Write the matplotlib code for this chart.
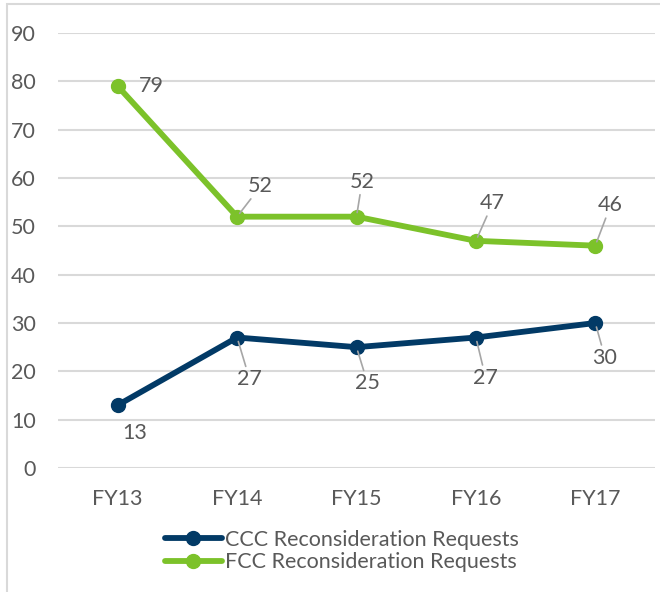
import matplotlib
matplotlib.use("Agg")
import matplotlib.pyplot as plt
from matplotlib.patches import Rectangle

plt.rcParams['font.family'] = ['Lato', 'DejaVu Sans']

categories = ["FY13", "FY14", "FY15", "FY16", "FY17"]
ccc_values = [13, 27, 25, 27, 30]
fcc_values = [79, 52, 52, 47, 46]
ccc_name = "CCC Reconsideration Requests"
fcc_name = "FCC Reconsideration Requests"
y_ticks = [0, 10, 20, 30, 40, 50, 60, 70, 80, 90]

navy = "#023A66"
green = "#7CC22A"
grid_c = "#D9D9D9"
text_c = "#595959"
leader_c = "#A6A6A6"

# label offsets in points (dx, dy), and whether a leader line is drawn
ccc_offsets = [(12, -20), (9, -30), (8, -26), (7, -29), (7, -25)]
ccc_leader = [False, True, True, True, True]
fcc_offsets = [(24, 0), (17, 22), (4, 25), (12, 27), (11, 29)]
fcc_leader = [False, True, True, True, True]

FS = 15.5

fig = plt.figure(figsize=(6.6, 5.92), dpi=100)
ax = fig.add_axes([58/660, 1-468/592, (655-58)/660, (468-33)/592])

x = list(range(len(categories)))
ax.plot(x, ccc_values, color=navy, lw=4.2, marker='o', ms=10, label=ccc_name,
        solid_capstyle='round', zorder=3)
ax.plot(x, fcc_values, color=green, lw=4.2, marker='o', ms=10, label=fcc_name,
        solid_capstyle='round', zorder=3)

for vals, offs, leads in [(ccc_values, ccc_offsets, ccc_leader), (fcc_values, fcc_offsets, fcc_leader)]:
    for i, v in enumerate(vals):
        ap = dict(arrowstyle='-', color=leader_c, lw=1.2, shrinkA=0, shrinkB=3) if leads[i] else None
        ax.annotate(str(v), xy=(i, v), xytext=offs[i], textcoords='offset points',
                    ha='center', va='center', fontsize=FS, color=text_c,
                    arrowprops=ap, zorder=4)

ax.set_xlim(-0.5, len(categories) - 0.5)
ax.set_ylim(0, 90)
ax.set_yticks(y_ticks)
ax.set_xticks(x)
ax.set_xticklabels(categories)
ax.yaxis.grid(True, color=grid_c, lw=1.5)
ax.set_axisbelow(True)
for s in ax.spines.values():
    s.set_visible(False)
ax.tick_params(axis='both', length=0, labelsize=FS, labelcolor=text_c)
ax.tick_params(axis='y', pad=16)
ax.tick_params(axis='x', pad=15)

leg = fig.legend(loc='center', bbox_to_anchor=(342/660, 1-551/592), frameon=False,
                 fontsize=FS, handlelength=2.65, handletextpad=0.15, labelspacing=0.12,
                 labelcolor=text_c)

fig.patches.append(Rectangle((7/660, -0.1), 1.2, 1.1 - 4/592, transform=fig.transFigure,
                             fill=False, ec=grid_c, lw=1.5))

fig.savefig("out.png", dpi=100)
